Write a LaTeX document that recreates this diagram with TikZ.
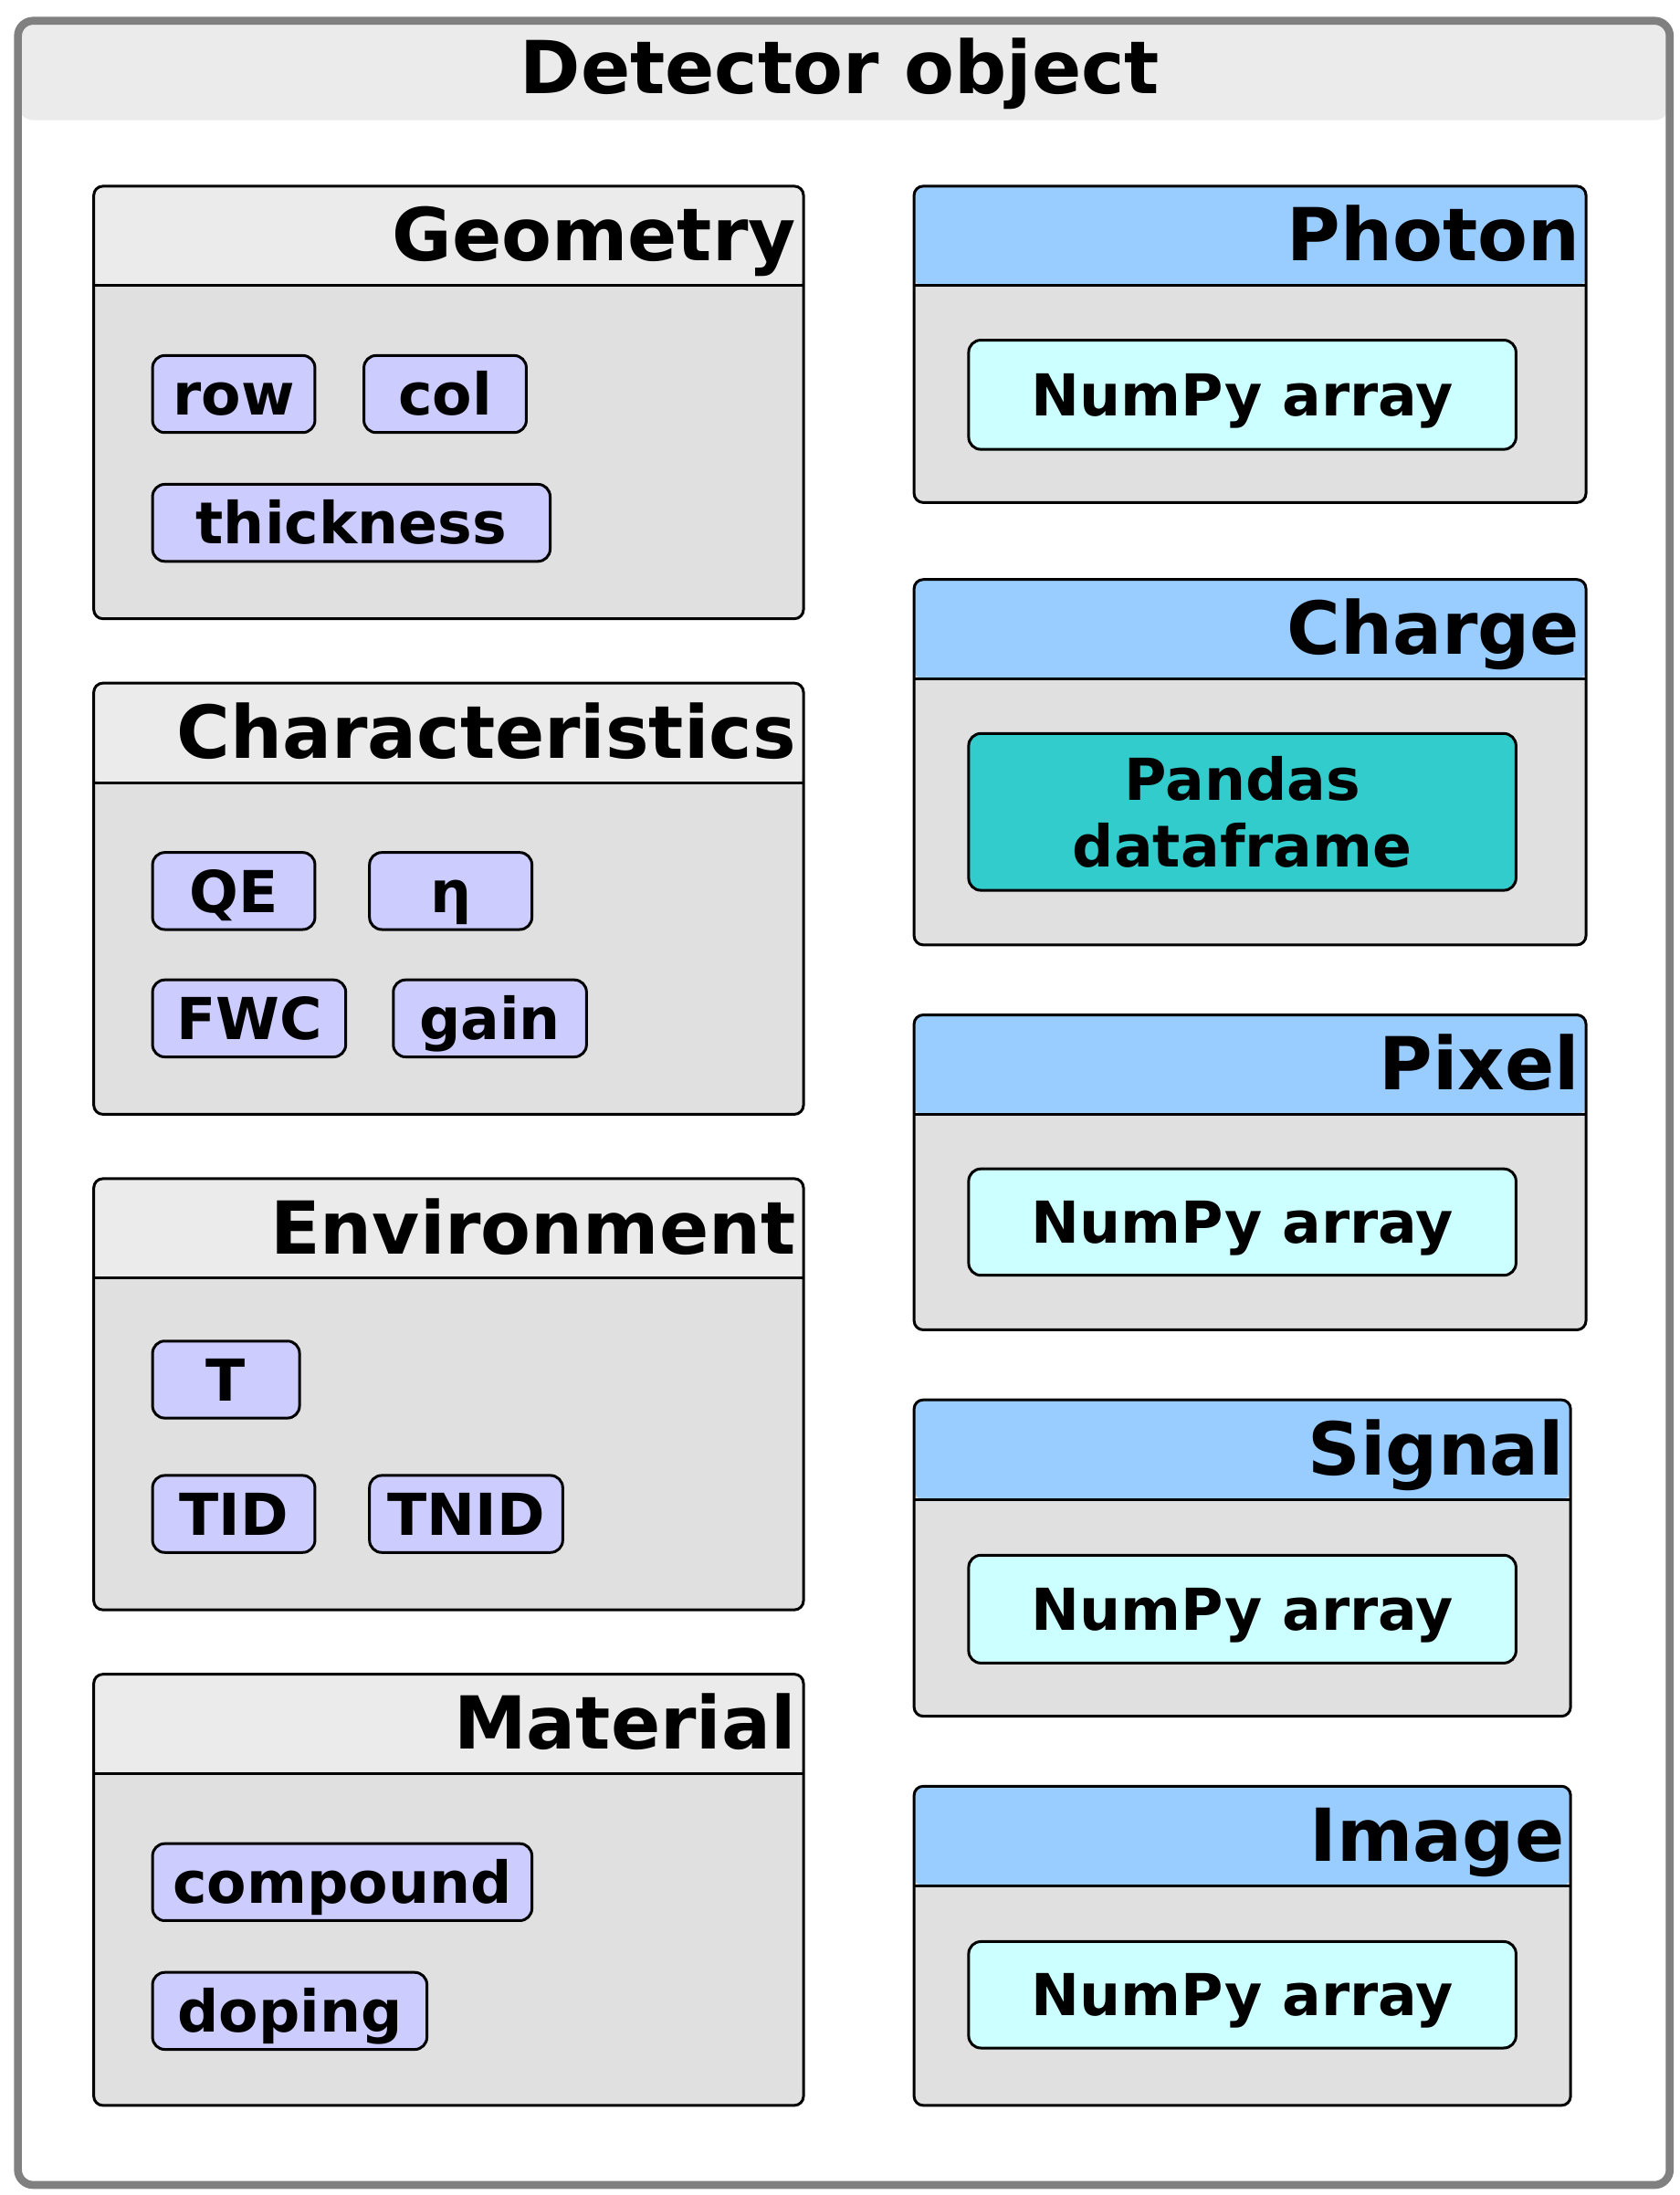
\documentclass[tikz,border=0pt]{standalone}
\usepackage{fontspec}
\setmainfont{DejaVu Sans}

\definecolor{hdrgray}{HTML}{EBEBEB}
\definecolor{bodygray}{HTML}{E0E0E0}
\definecolor{hdrblue}{HTML}{99CCFF}
\definecolor{attrblue}{HTML}{CCCCFF}
\definecolor{datcyan}{HTML}{CCFFFF}
\definecolor{dfteal}{HTML}{33CCCC}
\definecolor{framegray}{HTML}{808080}
\newcommand{\upx}{0.46pt}

\begin{document}
\begin{tikzpicture}[
  x=0.46pt, y=-0.46pt,
  font=\bfseries,
  outer/.style={draw=framegray, line width=2.6pt, rounded corners=5pt, anchor=north west, inner sep=0pt,
    path picture={\fill[hdrgray] (path picture bounding box.north west) rectangle ([yshift=-71*\upx]path picture bounding box.north east);}},
  container/.style={draw, line width=0.9pt, rounded corners=3pt, fill=bodygray, anchor=north west, inner sep=0pt,
    path picture={\fill[#1] (path picture bounding box.north west) rectangle ([yshift=-71*\upx]path picture bounding box.north east);
      \draw[line width=0.9pt] ([yshift=-71*\upx]path picture bounding box.north west) -- ([yshift=-71*\upx]path picture bounding box.north east);}},
  hdr/.style={font=\fontsize{24}{28}\selectfont\bfseries, anchor=east, inner sep=0pt, text height=17.5pt, text depth=0pt},
  attr/.style={draw, line width=0.9pt, fill=attrblue, rounded corners=4pt, anchor=north west, inner sep=0pt,
    minimum height=55*\upx, font=\fontsize{19}{22}\selectfont\bfseries, text height=13.9pt, text depth=0pt},
  datbox/.style={attr, fill=datcyan, minimum width=391*\upx}
]
\useasboundingbox (0,0) rectangle (1200,1568);

% outer frame
\node[outer, minimum width=1180*\upx, minimum height=1546*\upx] (det) at (10,12) {};
\node[font=\fontsize{24}{28}\selectfont\bfseries, inner sep=0pt, text height=17.5pt, text depth=0pt] (dett) at (600,48) {Detector object};

% left column
\node[container=hdrgray, minimum width=507*\upx, minimum height=309*\upx] (geo) at (66,132) {};
\node[hdr] (geot) at ([xshift=-6*\upx, yshift=-35.5*\upx]geo.north east) {Geometry};
\node[attr, minimum width=116*\upx] (row) at (108,253) {row};
\node[attr, minimum width=116*\upx] (col) at (259,253) {col};
\node[attr, minimum width=284*\upx] (thick) at (108,345) {thickness};

\node[container=hdrgray, minimum width=507*\upx, minimum height=308*\upx] (char) at (66,487) {};
\node[hdr] (chart) at ([xshift=-6*\upx, yshift=-35.5*\upx]char.north east) {Characteristics};
\node[attr, minimum width=116*\upx] (qe) at (108,608) {QE};
\node[attr, minimum width=116*\upx] (eta) at (263,608) {η};
\node[attr, minimum width=138*\upx] (fwc) at (108,699) {FWC};
\node[attr, minimum width=138*\upx] (gain) at (280,699) {gain};

\node[container=hdrgray, minimum width=507*\upx, minimum height=308*\upx] (env) at (66,841) {};
\node[hdr] (envt) at ([xshift=-6*\upx, yshift=-35.5*\upx]env.north east) {Environment};
\node[attr, minimum width=105*\upx] (temp) at (108,957) {T};
\node[attr, minimum width=116*\upx] (tid) at (108,1053) {TID};
\node[attr, minimum width=138*\upx] (tnid) at (263,1053) {TNID};

\node[container=hdrgray, minimum width=507*\upx, minimum height=308*\upx] (mat) at (66,1195) {};
\node[hdr] (matt) at ([xshift=-6*\upx, yshift=-35.5*\upx]mat.north east) {Material};
\node[attr, minimum width=271*\upx] (comp) at (108,1316) {compound};
\node[attr, minimum width=196*\upx] (dop) at (108,1408) {doping};

% right column
\node[container=hdrblue, minimum width=480*\upx, minimum height=226*\upx] (pho) at (652,132) {};
\node[hdr] (phot) at ([xshift=-5*\upx, yshift=-35.5*\upx]pho.north east) {Photon};
\node[datbox, minimum height=78*\upx] (phoarr) at (691,242) {NumPy array};

\node[container=hdrblue, minimum width=480*\upx, minimum height=261*\upx] (chg) at (652,413) {};
\node[hdr] (chgt) at ([xshift=-5*\upx, yshift=-35.5*\upx]chg.north east) {Charge};
\node[datbox, fill=dfteal, minimum height=112*\upx, align=center, text height={}, text depth={}] (chgdf) at (691,523) {Pandas\\dataframe};

\node[container=hdrblue, minimum width=480*\upx, minimum height=225*\upx] (pix) at (652,724) {};
\node[hdr] (pixt) at ([xshift=-5*\upx, yshift=-35.5*\upx]pix.north east) {Pixel};
\node[datbox, minimum height=76*\upx] (pixarr) at (691,834) {NumPy array};

\node[container=hdrblue, minimum width=469*\upx, minimum height=226*\upx] (sig) at (652,999) {};
\node[hdr] (sigt) at ([xshift=-5*\upx, yshift=-35.5*\upx]sig.north east) {Signal};
\node[datbox, minimum height=77*\upx] (sigarr) at (691,1110) {NumPy array};

\node[container=hdrblue, minimum width=469*\upx, minimum height=228*\upx] (img) at (652,1275) {};
\node[hdr] (imgt) at ([xshift=-5*\upx, yshift=-35.5*\upx]img.north east) {Image};
\node[datbox, minimum height=76*\upx] (imgarr) at (691,1386) {NumPy array};
\end{tikzpicture}
\end{document}
